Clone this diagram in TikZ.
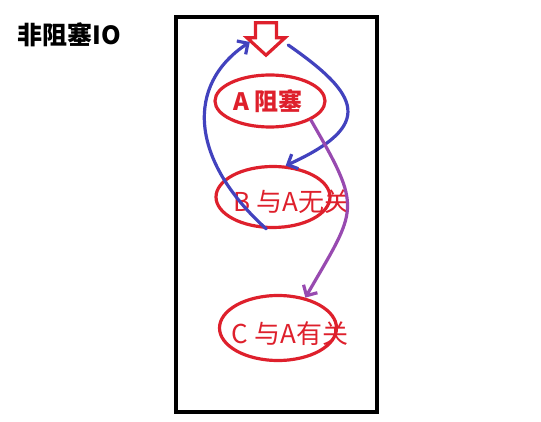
\documentclass[tikz,border=0pt]{standalone}
\usepackage{fontspec}
\setmainfont{Noto Sans CJK SC}
\usepackage{tikz}
\usetikzlibrary{shapes,arrows.meta}
\definecolor{inkred}{RGB}{222,32,44}
\definecolor{inkblue}{RGB}{66,66,190}
\definecolor{inkpurple}{RGB}{152,74,176}
\tikzstyle{bubble} = [draw=inkred, line width=3.2pt, ellipse, inner sep=0pt]
\tikzstyle{tag} = [text=inkred, font=\fontsize{26}{26}\selectfont]
\tikzstyle{pen} = [line width=3.2pt, line cap=round, ->]
\tikzstyle{bluepen} = [pen, draw=inkblue]
\tikzstyle{purplepen} = [pen, draw=inkpurple]

\begin{document}
\begin{tikzpicture}[x=1pt, y=-1pt, >={Straight Barb[length=8pt,width=16pt]}]
    \useasboundingbox (0,0) rectangle (541,422);
    % We start with the title and the frame
    \node [anchor=west, font=\bfseries\fontsize{25}{25}\selectfont] (title) at (14,35) {非阻塞IO};
    \draw [line width=4.5pt] (176,17) rectangle (377,412);
    % the entry arrow on top, then the three ellipses
    \node [minimum width=38pt, minimum height=32pt, inner sep=0pt] (entry) at (266,39) {};
    \draw [draw=inkred, line width=3.2pt, line join=miter]
        ([xshift=-10.5pt]entry.north) -- ([xshift=10.5pt]entry.north)
        -- ([xshift=10.5pt,yshift=-15pt]entry.north) -- ([xshift=19pt,yshift=-15pt]entry.north)
        -- (entry.south) -- ([xshift=-19pt,yshift=-15pt]entry.north)
        -- ([xshift=-10.5pt,yshift=-15pt]entry.north) -- cycle;
    \node [bubble, minimum width=110pt, minimum height=52pt,
        label={[tag, font=\bfseries\fontsize{24}{24}\selectfont, xshift=-2pt]center:A 阻塞}] (A) at (270,101) {};
    \node [bubble, minimum width=114pt, minimum height=61pt,
        label={[tag, xshift=19pt, yshift=-5pt]center:B 与A无关}] (B) at (273,197) {};
    \node [bubble, minimum width=117pt, minimum height=65pt,
        label={[tag, xshift=12pt, yshift=-6pt]center:C 与A有关}] (C) at (278,328) {};
    % We draw the pen strokes between them
    \draw [bluepen] (B.258) .. controls (190,160) and (185,85) .. ([xshift=3pt,yshift=-3pt]entry.west);
    \draw [bluepen] ([xshift=3pt,yshift=-6pt]entry.east) .. controls (360,95) and (375,125) .. (B.68);
    \draw [purplepen] (A.-25) to [out=-60, in=60, looseness=1.5] (C.48);
\end{tikzpicture}
\end{document}
